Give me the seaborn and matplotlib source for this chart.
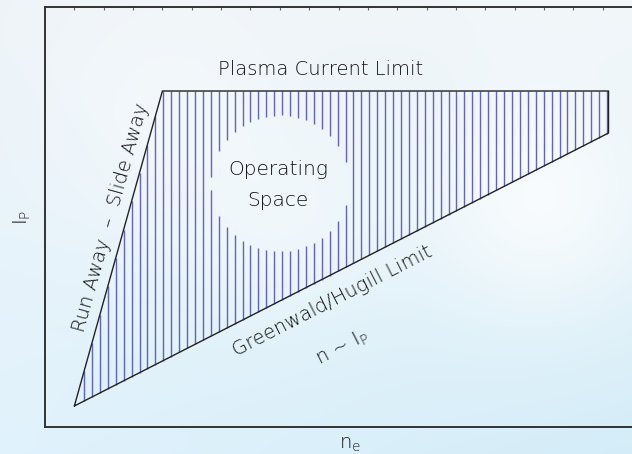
import numpy as np
import matplotlib.pyplot as plt
import seaborn as sns

# contorno da região de operação (x = n_e, y = I_P, unidades arbitrárias)
regiao_x = [5, 20, 96, 96, 5]
regiao_y = [5, 80, 80, 70, 5]

# bolha "Operating Space" (sem hachura)
bolha_centro = (40.0, 58.0)
bolha_raio = (11.8, 16.2)

ticks_topo = [5, 10, 15, 20, 25, 30, 35, 40, 45, 50, 55, 60, 65, 70, 75, 80, 85, 90, 95]

sns.set_style('white')
plt.rcParams['font.family'] = ['DejaVu Sans']
plt.rcParams['mathtext.default'] = 'regular'

fig = plt.figure(figsize=(6.32, 4.54), dpi=100)

# fundo degradê azul claro
fundo = fig.add_axes([0, 0, 1, 1], zorder=-1)
fundo.axis('off')
h, w = 454, 632
yy, xx = np.mgrid[0:h, 0:w]
u, v = xx / w, yy / h
c_tl = np.array([0.935, 0.955, 0.972])
c_tr = np.array([0.950, 0.968, 0.978])
c_bl = np.array([0.880, 0.950, 0.990])
c_br = np.array([0.830, 0.928, 0.972])
img = ((1 - u) * (1 - v))[..., None] * c_tl + (u * (1 - v))[..., None] * c_tr \
    + ((1 - u) * v)[..., None] * c_bl + (u * v)[..., None] * c_br
for cx, cy, r, a in [(540, 200, 80, 0.7), (285, 215, 70, 0.35), (160, 120, 90, 0.35)]:
    g = np.exp(-((xx - cx) ** 2 + (yy - cy) ** 2) / (2 * r ** 2)) * a
    img = img * (1 - g[..., None]) + g[..., None] * 1.0
fundo.imshow(np.clip(img, 0, 1), aspect='auto', extent=[0, 1, 0, 1])

ax = fig.add_axes([45 / 632, 27 / 454, 1 - 45 / 632, 420 / 454])
ax.set_facecolor('none')
ax.set_xlim(0, 100)
ax.set_ylim(0, 100)

# hachura vertical, calculada a partir do contorno
xs_baixo = [regiao_x[0], regiao_x[3]]
ys_baixo = [regiao_y[0], regiao_y[3]]
xs_cima = [regiao_x[0], regiao_x[1], regiao_x[2]]
ys_cima = [regiao_y[0], regiao_y[1], regiao_y[2]]
passo = 1.35
for xh in np.arange(regiao_x[0] + 1.65, regiao_x[2], passo):
    y0 = np.interp(xh, xs_baixo, ys_baixo)
    y1 = np.interp(xh, xs_cima, ys_cima)
    dx = (xh - bolha_centro[0]) / bolha_raio[0]
    if abs(dx) < 1:
        dy = bolha_raio[1] * np.sqrt(1 - dx ** 2)
        g0, g1 = bolha_centro[1] - dy, bolha_centro[1] + dy
        segs = [(y0, min(y1, g0)), (max(y0, g1), y1)]
    else:
        segs = [(y0, y1)]
    for a, b in segs:
        if b > a:
            ax.vlines(xh, a, b, color='#4a4ab0', lw=1.0, alpha=0.85, zorder=2)

sns.lineplot(x=regiao_x, y=regiao_y, sort=False, estimator=None, color='#222222',
             lw=1.0, ax=ax, zorder=3)

cor_txt = '#111111'
fs = 14
peso = 'light'
ax.text(47.0, 85.2, 'Plasma Current Limit', ha='center', va='center', fontsize=fs,
        color=cor_txt, fontweight=peso)
ax.text(11.2, 49.8, 'Run Away  –  Slide Away', ha='center', va='center', fontsize=fs,
        color=cor_txt, rotation=74.3, rotation_mode='anchor', fontweight=peso)
ax.text(48.9, 30.0, 'Greenwald/Hugill Limit', ha='center', va='center', fontsize=fs,
        color=cor_txt, rotation=27.1, rotation_mode='anchor', fontweight=peso)
ax.text(50.6, 19.0, 'n ~ I$_P$', ha='center', va='center', fontsize=fs,
        color=cor_txt, rotation=27.1, rotation_mode='anchor', fontweight=peso)
ax.text(39.7, 57.6, 'Operating\nSpace', ha='center', va='center', fontsize=14.5,
        color=cor_txt, linespacing=1.8, fontweight=peso)

for lado in ['left', 'bottom', 'top']:
    ax.spines[lado].set_color('#333333')
    ax.spines[lado].set_linewidth(1.4)
ax.spines['right'].set_visible(False)

ax.set_xticks(ticks_topo)
ax.set_yticks([])
ax.tick_params(axis='x', bottom=False, top=True, direction='in', length=2,
               color='#666666', labelbottom=False)
ax.set_xlabel('n$_e$', fontsize=fs, color=cor_txt, fontweight=peso)
ax.set_ylabel('I$_P$', fontsize=fs, color=cor_txt, fontweight=peso)
ax.xaxis.set_label_coords((350 - 45) / 587, -0.02)
ax.yaxis.set_label_coords(-12 / 587, 0.50)

fig.savefig('out.png', dpi=100)
